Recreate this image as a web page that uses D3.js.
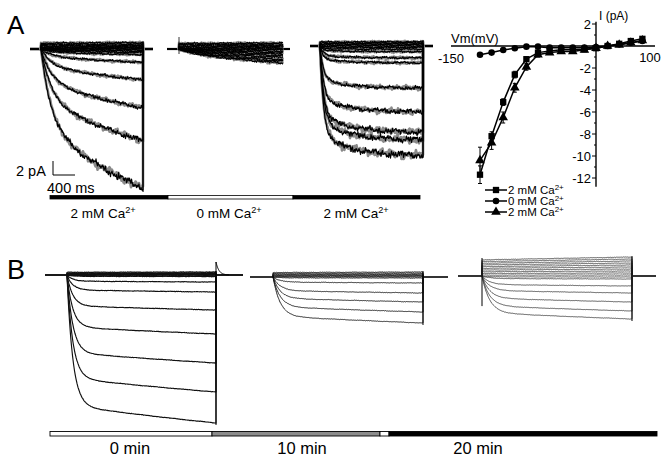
<!DOCTYPE html>
<html>
<head>
<meta charset="utf-8">
<script src="https://cdn.jsdelivr.net/npm/d3@7"></script>
<style>
    body { margin: 0; background: #fff; }
    svg { display: block; font-family: "Liberation Sans", Arial, sans-serif; }
</style>
</head>
<body>
<div id="fig"></div>
<script>
// ---------- data ----------

// I-V relation (panel A, right): step potential (mV) and mean current (pA)
var ivVoltage = [-120, -108, -96, -84, -72, -60, -48, -36, -24, -12, 0, 12, 24, 36, 48];
var ivCa2First = [-11.7, -8.2, -5.1, -2.6, -1.2, -0.6, -0.45, -0.35, -0.35, -0.3, -0.2, 0, 0.2, 0.45, 0.65];
var ivCa0 = [-0.8, -0.6, -0.36, -0.2, -0.06, -0.06, -0.15, -0.15, -0.15, -0.15, -0.1, 0, 0.15, 0.3, 0.45];
var ivCa2Second = [-10.4, -8.8, -6.5, -3.8, -1.9, -0.8, -0.6, -0.5, -0.5, -0.35, -0.2, 0, 0.1, 0.3, 0.5];
var ivErrFirst = [0.8, 0.4, 0.3, 0.3, 0.2, 0.15, 0.1, 0.1, 0.1, 0.1, 0.1, 0.1, 0.1, 0.1, 0.15];
var ivErrSecond = [1.2, 0.6, 0.5, 0.4, 0.3, 0.2, 0.1, 0.1, 0.1, 0.1, 0.1, 0.1, 0.1, 0.1, 0.15];
var ivYTicks = [2, -2, -4, -6, -8, -10, -12];
var ivLegend = ["2 mM Ca", "0 mM Ca", "2 mM Ca"];

// current at the end of each voltage step (pA), one value per sweep
var sweepsA2mM = [0.9, 0.7, 0.5, 0.35, 0.2, 0.1, 0, -0.15, -0.3, -0.5, -0.8, -1.9, -4.4, -8.4, -13.1, -19.9];
var sweepsA0mM = [0.85, 0.7, 0.5, 0.35, 0.2, 0.05, -0.1, -0.3, -0.5, -0.7, -0.95, -1.2, -1.5, -1.75, -2.0];
var sweepsA2mMBack = [0.6, 0.45, 0.3, 0.15, 0, -0.2, -0.45, -0.8, -1.7, -2.4, -6, -9.4, -12.3, -13.4, -15.6];
var sweepsB0min = [0.6, 0.45, 0.3, 0.2, 0.1, 0, -0.15, -0.3, -1.4, -3.4, -7, -11.8, -17.6, -23.4, -29.6];
var sweepsB10min = [1, 0.8, 0.6, 0.45, 0.3, 0.15, 0, -0.2, -1.2, -3.2, -5, -7, -9.2];
var sweepsB20min = [3.8, 3.4, 3.0, 2.6, 2.2, 1.8, 1.4, 1.0, 0.6, 0.2, -0.2, -0.6, -2, -3.4, -5.2, -7, -8.6];
var tailB0min = 2.6; // outward tail spike at the end of the 0 min record (pA)

// condition labels under the records
var condLabelsA = ["2 mM Ca", "0 mM Ca", "2 mM Ca"];
var condLabelsB = ["0 min", "10 min", "20 min"];

var pulseMs = 1800;

// ---------- svg ----------
var svg = d3.select("#fig")
    .append("svg")
    .attr("width", 666)
    .attr("height", 456);

// panel letters
svg.append("text").attr("x", 7).attr("y", 34).attr("font-size", 26).text("A");
svg.append("text").attr("x", 7).attr("y", 279).attr("font-size", 27).text("B");

// deterministic jitter used to give the recordings their noisy look
function wiggle(p, k) {
    return Math.sin(p * 0.21 + k * 1.3) * 0.35 +
        Math.sin(p * 0.73 + k * 2.3) * 0.3 +
        Math.sin(p * 1.91 + k * 5.1) * 0.3 +
        Math.sin(p * 3.37 + k * 0.7) * 0.28 +
        Math.sin(p * 5.83 + k * 3.7) * 0.25 +
        Math.sin(p * 9.71 + k * 1.1) * 0.22 +
        Math.sin(p * 15.3 + k * 4.4) * 0.2;
}

// record layouts (pixel boxes and kinetics of each family of sweeps)
var records = [
    { sweeps: sweepsA2mM, base: 49, x0: 41, x1: 143, pre: 30, post: 153, ppa: 7, fast: 0.55, tauF: 180, tauS: 3000, posFast: 0.92, noise: 0.8, noiseGain: 0.022, endLine: true, segW: 2.6, w: 1.2, c: "#000" },
    { sweeps: sweepsA0mM, base: 49, x0: 179, x1: 283, pre: 167, post: 290, ppa: 7, fast: 0.3, tauF: 260, tauS: 4000, posFast: 0.9, noise: 0.8, noiseGain: 0.03, endLine: false, segW: 2.2, w: 1.1, tick: true, c: "#000" },
    { sweeps: sweepsA2mMBack, base: 46, x0: 320, x1: 423, pre: 310, post: 433, ppa: 7, fast: 0.8, tauF: 60, tauS: 500, posFast: 0.92, noise: 0.8, noiseGain: 0.025, endLine: true, segW: 2.6, w: 1.2, c: "#000" },
    { sweeps: sweepsB0min, base: 275, x0: 67, x1: 216, pre: 45, post: 243, ppa: 5, fast: 0.88, tauF: 70, tauS: 6000, posFast: 0.9, noise: 0.25, noiseGain: 0, endLine: true, segW: 1.8, w: 1.15, c: "#111", tail: tailB0min },
    { sweeps: sweepsB10min, base: 277, x0: 273, x1: 423, pre: 250, post: 448, ppa: 5, fast: 0.85, tauF: 85, tauS: 6000, posFast: 0.9, noise: 0.25, noiseGain: 0, endLine: true, segW: 1.6, w: 0.9, c: "#111" },
    { sweeps: sweepsB20min, base: 276, x0: 482, x1: 632, pre: 458, post: 656, ppa: 5, fast: 0.85, tauF: 90, tauS: 6000, posFast: 0.85, noise: 0.2, noiseGain: 0, endLine: true, startLine: true, segW: 1.6, w: 0.8, c: "#333" }
];

// shape of one sweep in time (fraction of its end value)
function sweepShape(t, amp, r) {
    if (amp > 0) {
        return r.posFast + (1 - r.posFast) * t / pulseMs;
    }
    var slow = (1 - Math.exp(-t / r.tauS)) / (1 - Math.exp(-pulseMs / r.tauS));
    return r.fast * (1 - Math.exp(-t / r.tauF)) + (1 - r.fast) * slow;
}

records.forEach(function (r, ri) {
    var xScale = d3.scaleLinear().domain([0, pulseMs]).range([r.x0, r.x1]);
    var yScale = d3.scaleLinear().domain([0, -1]).range([r.base, r.base + r.ppa]);
    var g = svg.append("g");

    var step = xScale.invert(r.x0 + 0.5) - xScale.invert(r.x0);
    var times = d3.range(0, pulseMs + step / 2, step);

    var line = d3.line().x(d => d[0]).y(d => d[1]);

    // baseline before and after the step
    g.append("line")
        .attr("x1", r.pre).attr("x2", r.x0 + 1)
        .attr("y1", r.base).attr("y2", r.base)
        .attr("stroke", "#000").attr("stroke-width", r.segW);
    g.append("line")
        .attr("x1", r.x1 - 1).attr("x2", r.post)
        .attr("y1", r.base).attr("y2", r.base)
        .attr("stroke", "#000").attr("stroke-width", r.segW);

    var layers = r.noiseGain > 0 ? [{ c: "#8a8a8a", w: r.w + 1.4, k: 17 }, { c: r.c, w: r.w, k: 0 }] : [{ c: r.c, w: r.w, k: 0 }];

    layers.forEach(function (layer) {
        g.selectAll(null)
            .data(r.sweeps)
            .enter()
            .append("path")
            .attr("fill", "none")
            .attr("stroke", layer.c)
            .attr("stroke-width", layer.w)
            .attr("stroke-linejoin", "round")
            .attr("d", function (amp, i) {
                var pts = [[xScale(0), yScale(0)]];
                times.forEach(function (t, j) {
                    var cur = amp * sweepShape(t, amp, r);
                    var curPx = Math.abs(yScale(cur) - r.base);
                    var n = (r.noise + r.noiseGain * curPx) * wiggle(j * 0.5 + ri * 7, i * 1.9 + layer.k);
                    pts.push([xScale(t), yScale(cur) + n]);
                });
                if (r.endLine) pts.push([xScale(pulseMs), yScale(0)]);
                return line(pts);
            });
    });

    var ends = r.sweeps.map(a => yScale(a));
    if (r.endLine) {
        g.append("line")
            .attr("x1", r.x1).attr("x2", r.x1)
            .attr("y1", d3.min(ends) - 1).attr("y2", d3.max(ends) + 2)
            .attr("stroke", "#000").attr("stroke-width", 1);
    }
    if (r.startLine) {
        g.append("line")
            .attr("x1", r.x0).attr("x2", r.x0)
            .attr("y1", d3.min(ends) + 1).attr("y2", yScale(d3.min(r.sweeps) * 0.7))
            .attr("stroke", "#000").attr("stroke-width", 1);
    }
    if (r.tick) {
        g.append("line")
            .attr("x1", r.x0).attr("x2", r.x0)
            .attr("y1", r.base - 12).attr("y2", r.base + 5)
            .attr("stroke", "#000").attr("stroke-width", 0.8);
    }
    if (r.tail) {
        var tailT = d3.range(0, 160, 4);
        var tailPts = [[xScale(pulseMs), r.base]].concat(tailT.map(t => [xScale(pulseMs + t), yScale(r.tail * Math.exp(-t / 35))]));
        g.append("path")
            .attr("d", line(tailPts))
            .attr("fill", "none").attr("stroke", "#000").attr("stroke-width", 1);
    }
});

// scale bar for panel A
svg.append("path")
    .attr("d", "M53,161V175H75")
    .attr("fill", "none").attr("stroke", "#000").attr("stroke-width", 1);
svg.append("text").attr("x", 16).attr("y", 176).attr("font-size", 14.5).text("2 pA");
svg.append("text").attr("x", 47).attr("y", 193).attr("font-size", 14.5).text("400 ms");

// ---------- condition bars ----------
function superLabel(sel, x, y, txt, size) {
    var t = sel.append("text")
        .attr("x", x).attr("y", y)
        .attr("font-size", size)
        .attr("text-anchor", "middle");
    t.append("tspan").text(txt);
    t.append("tspan").attr("font-size", size * 0.68).attr("dy", -size * 0.38).text("2+");
    return t;
}

var barsA = [
    { x0: 50, x1: 168, fill: "#000", cx: 103 },
    { x0: 168, x1: 293, fill: "#fff", cx: 229 },
    { x0: 293, x1: 420, fill: "#000", cx: 356 }
];
svg.selectAll(".barA")
    .data(barsA)
    .enter()
    .append("rect")
    .attr("x", d => d.x0).attr("y", 195.5)
    .attr("width", d => d.x1 - d.x0).attr("height", 3.5)
    .attr("fill", d => d.fill)
    .attr("stroke", "#000").attr("stroke-width", 0.8);
barsA.forEach(function (d, i) {
    superLabel(svg, d.cx, 218, condLabelsA[i], 13.5);
});

var barsB = [
    { x0: 50, x1: 212, fill: "#fff" },
    { x0: 212, x1: 380, fill: "#8c8c8c" },
    { x0: 380, x1: 389, fill: "#fff" },
    { x0: 389, x1: 657, fill: "#000" }
];
var labelXB = [130, 302, 478];
svg.selectAll(".barB")
    .data(barsB)
    .enter()
    .append("rect")
    .attr("x", d => d.x0).attr("y", 431.5)
    .attr("width", d => d.x1 - d.x0).attr("height", 4.5)
    .attr("fill", d => d.fill)
    .attr("stroke", "#000").attr("stroke-width", 0.9);
condLabelsB.forEach(function (lab, i) {
    svg.append("text")
        .attr("x", labelXB[i]).attr("y", 454)
        .attr("font-size", 16.5)
        .attr("text-anchor", "middle")
        .text(lab);
});

// ---------- I-V plot ----------
var ivX = d3.scaleLinear().domain([-120, 0]).range([480, 596]);
var ivY = d3.scaleLinear().domain([-12, 2]).range([178, 24]);
var iv = svg.append("g");

// axes
iv.append("line")
    .attr("x1", ivX(-150)).attr("x2", 655)
    .attr("y1", ivY(0)).attr("y2", ivY(0))
    .attr("stroke", "#000").attr("stroke-width", 1.4);
iv.append("line")
    .attr("x1", ivX(0)).attr("x2", ivX(0))
    .attr("y1", ivY(2.2)).attr("y2", ivY(-12.8))
    .attr("stroke", "#000").attr("stroke-width", 1.4);
iv.selectAll(".yt")
    .data(d3.range(-12, 3, 1))
    .enter()
    .append("line")
    .attr("x1", d => ivX(0) - (d % 2 === 0 ? 4 : 2)).attr("x2", ivX(0))
    .attr("y1", d => ivY(d)).attr("y2", d => ivY(d))
    .attr("stroke", "#000").attr("stroke-width", 1);
iv.selectAll(".ytl")
    .data(ivYTicks)
    .enter()
    .append("text")
    .attr("x", ivX(0) - 5).attr("y", d => ivY(d) + 4.5)
    .attr("text-anchor", "end")
    .attr("font-size", 13)
    .text(d => d);
iv.append("text").attr("x", ivX(0) + 3).attr("y", 20).attr("font-size", 12).text("I (pA)");
iv.append("text").attr("x", ivX(-150)).attr("y", ivY(0) - 3).attr("font-size", 13).text("Vm(mV)");
iv.append("text").attr("x", ivX(-150)).attr("y", 63).attr("font-size", 13).attr("text-anchor", "middle").text("-150");
iv.append("text").attr("x", 650).attr("y", 62).attr("font-size", 13).attr("text-anchor", "middle").text("100");

var series = [
    { vals: ivCa2First, err: ivErrFirst, sym: d3.symbolSquare, size: 40 },
    { vals: ivCa0, err: null, sym: d3.symbolCircle, size: 34 },
    { vals: ivCa2Second, err: ivErrSecond, sym: d3.symbolTriangle, size: 40 }
];
var ivLine = d3.line().x((d, i) => ivX(ivVoltage[i])).y(d => ivY(d));

series.forEach(function (s) {
    iv.append("path")
        .attr("d", ivLine(s.vals))
        .attr("fill", "none").attr("stroke", "#000").attr("stroke-width", 1.5);
    if (s.err) {
        iv.selectAll(null)
            .data(s.vals)
            .enter()
            .append("path")
            .attr("d", function (d, i) {
                var x = ivX(ivVoltage[i]), e = s.err[i];
                return "M" + x + "," + ivY(d - e) + "V" + ivY(d + e) +
                    "M" + (x - 2) + "," + ivY(d - e) + "H" + (x + 2) +
                    "M" + (x - 2) + "," + ivY(d + e) + "H" + (x + 2);
            })
            .attr("stroke", "#000").attr("stroke-width", 1);
    }
    iv.selectAll(null)
        .data(s.vals)
        .enter()
        .append("path")
        .attr("d", d3.symbol().type(s.sym).size(s.size))
        .attr("transform", (d, i) => `translate(${ivX(ivVoltage[i])}, ${ivY(d)})`)
        .attr("fill", "#000");
});

// legend
series.forEach(function (s, i) {
    var y = 190 + i * 11;
    iv.append("line")
        .attr("x1", 485).attr("x2", 507)
        .attr("y1", y).attr("y2", y)
        .attr("stroke", "#000").attr("stroke-width", 1.5);
    iv.append("path")
        .attr("d", d3.symbol().type(s.sym).size(s.size))
        .attr("transform", `translate(496, ${y})`)
        .attr("fill", "#000");
    var t = iv.append("text").attr("x", 508).attr("y", y + 4).attr("font-size", 11.5);
    t.append("tspan").text(ivLegend[i]);
    t.append("tspan").attr("font-size", 8).attr("dy", -4.5).text("2+");
});
</script>
</body>
</html>
